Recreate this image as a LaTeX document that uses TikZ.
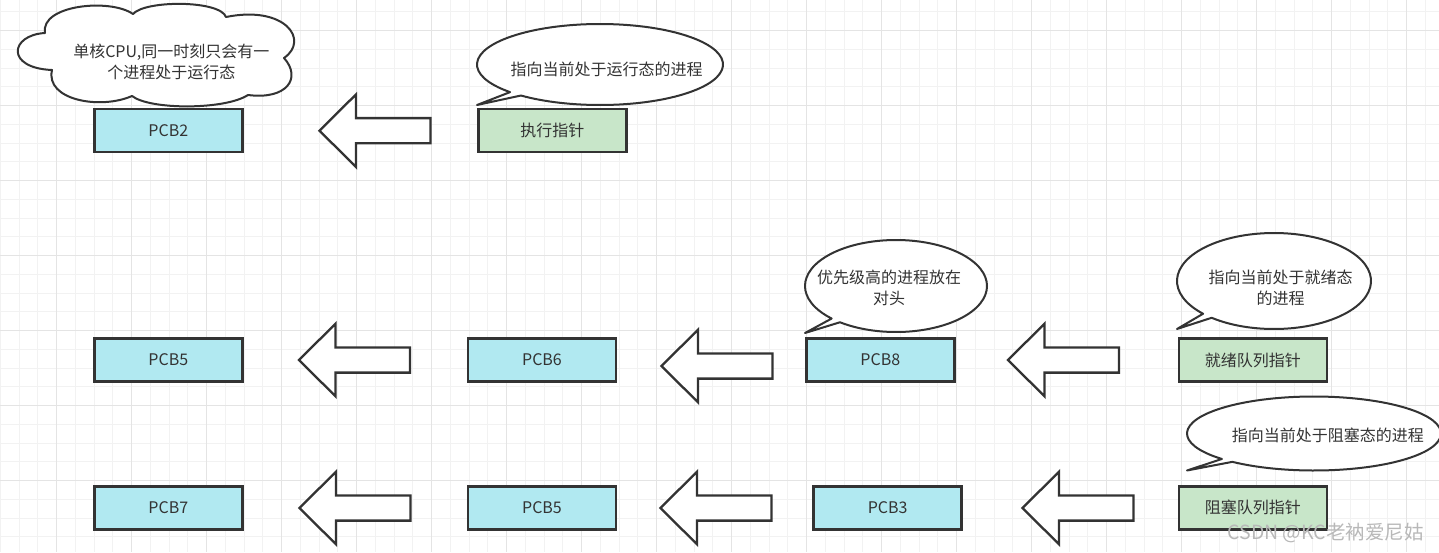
\documentclass[tikz,border=0pt]{standalone}
\usepackage{fontspec}
\setmainfont{Noto Sans CJK SC}
\usetikzlibrary{calc}
\definecolor{pcbcyan}{RGB}{177,233,241}
\definecolor{ptrgreen}{RGB}{200,230,201}
\definecolor{inkgray}{RGB}{51,51,51}
\definecolor{gridminor}{RGB}{242,242,242}
\definecolor{gridmajor}{RGB}{228,228,228}
\tikzset{
  pcbbox/.style={draw=inkgray, fill=pcbcyan, line width=2.5pt, minimum width=148pt, minimum height=43pt, text=inkgray, font=\fontsize{16}{21}\selectfont},
  ptrbox/.style={pcbbox, fill=ptrgreen},
  blockline/.style={draw=inkgray, fill=white, line width=2.3pt},
  noteline/.style={draw=inkgray, fill=white, line width=2pt, line join=round},
  notetext/.style={text=inkgray, font=\fontsize{16}{21}\selectfont, align=center},
  bigarrow/.pic={\path[blockline] (0,0) -- (36.5,-36.3) -- (36.5,-12.6) -- (111,-12.6) -- (111,12.6) -- (36.5,12.6) -- (36.5,36.3) -- cycle;}
}
% centre x, centre y, x radius, y radius, tail angle a, tail angle b (+360), tail tip
\newcommand{\speechbubble}[7]{%
  \draw[noteline] (#7) -- ($(#1,#2)+(#5:#3 and #4)$) arc[start angle=#5, end angle=#6, x radius=#3, y radius=#4] -- cycle;}

\begin{document}
\begin{tikzpicture}[x=1pt, y=-1pt]
  \fill[white] (0,0) rectangle (1439,552);
  \useasboundingbox (0,0) rectangle (1439,552);

  % grid
  \begin{scope}
    \clip (0,0) rectangle (1439,552);
    \foreach \k in {0,...,76} \draw[gridminor, line width=1pt] ({0.45+18.75*\k},0) -- ++(0,552);
    \foreach \k in {0,...,30} \draw[gridminor, line width=1pt] (0,{-6.8+18.75*\k}) -- ++(1439,0);
    \foreach \k in {0,...,19} \draw[gridmajor, line width=1pt] ({-18.3+75*\k},0) -- ++(0,552);
    \foreach \k in {0,...,7} \draw[gridmajor, line width=1pt] (0,{30.7+75*\k}) -- ++(1439,0);
  \end{scope}

  % block arrows
  \pic at (319.5,130.7) {bigarrow};
  \pic at (299,360) {bigarrow};
  \pic at (661.5,366) {bigarrow};
  \pic at (1008,360) {bigarrow};
  \pic at (299.5,508) {bigarrow};
  \pic at (660.5,508) {bigarrow};
  \pic at (1022.5,508) {bigarrow};

  \begin{scope}[every node/.style={pcbbox}]
    \node (run) at (168.3,130.7) {PCB2};
    \node (rdy0) at (168.3,360) {PCB5};
    \node (rdy1) at (542,360) {PCB6};
    \node (rdy2) at (880.3,360) {PCB8};
    \node (blk0) at (168.3,507.8) {PCB7};
    \node (blk1) at (542,507.8) {PCB5};
    \node (blk2) at (887.7,507.8) {PCB3};
  \end{scope}

  \begin{scope}[every node/.style={ptrbox}]
    \node (runptr) at (552.3,130.7) {执行指针};
    \node (rdyptr) at (1252.8,360) {就绪队列指针};
    \node (blkptr) at (1252.8,507.8) {阻塞队列指针};
  \end{scope}

  % cloud
  \draw[noteline] (45,33) .. controls (40,5) and (110,-2) .. (133,14)
    .. controls (145,0) and (220,0) .. (226,17)
    .. controls (285,5) and (310,40) .. (284,58)
    .. controls (302,78) and (287,100) .. (248,95)
    .. controls (225,110) and (150,110) .. (132,96)
    .. controls (100,110) and (45,100) .. (52,70)
    .. controls (5,68) and (10,35) .. (45,33) -- cycle;
  \node[notetext] (cpunote) at (171.3,62.3) {单核CPU,同一时刻只会有一\\个进程处于运行态};

  % speech bubbles
  \speechbubble{600}{64.5}{123}{40.5}{137}{490}{477,105}
  \speechbubble{896}{286}{91}{46}{135}{488}{805,333}
  \speechbubble{1274}{281}{97}{48}{137}{490}{1177,329}
  \speechbubble{1314}{433.5}{127}{37}{136.5}{490}{1187,470.5}

  \node[notetext] (runnote) at (606.7,69.3) {指向当前处于运行态的进程};
  \node[notetext] (headnote) at (889,287.5) {优先级高的进程放在\\对头};
  \node[notetext] (rdynote) at (1280.5,287.8) {指向当前处于就绪态\\的进程};
  \node[notetext] (blknote) at (1327.8,435) {指向当前处于阻塞态的进程};

  \node[text=black!28, font=\fontsize{19.5}{22}\selectfont] (mark) at (1325.5,533) {CSDN @KC老衲爱尼姑};
\end{tikzpicture}
\end{document}
